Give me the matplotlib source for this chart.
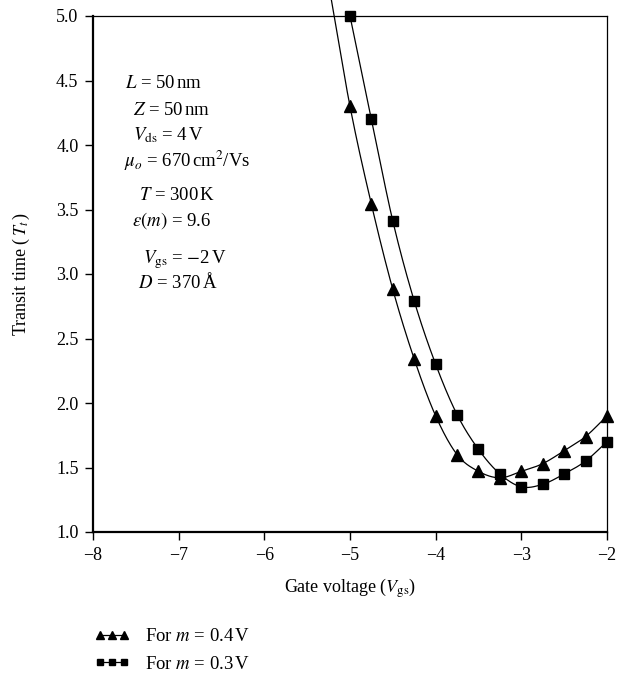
import numpy as np
import matplotlib
matplotlib.use("Agg")
import matplotlib.pyplot as plt

plt.rcParams["font.family"] = ["Liberation Serif", "DejaVu Serif"]
plt.rcParams["mathtext.fontset"] = "stix"

# Transit time vs gate voltage for two values of m
vgs = [-5.0, -4.75, -4.5, -4.25, -4.0, -3.75, -3.5, -3.25, -3.0, -2.75, -2.5, -2.25, -2.0]
tt_m04 = [4.30, 3.54, 2.88, 2.34, 1.90, 1.60, 1.47, 1.42, 1.47, 1.53, 1.63, 1.74, 1.90]
tt_m03 = [5.00, 4.20, 3.41, 2.79, 2.30, 1.91, 1.64, 1.45, 1.35, 1.37, 1.45, 1.55, 1.70]

# the m = 0.4 V curve runs on above the top of the frame
lead_x = [-5.25]
lead_y = [5.25]

params = [
    (125, 88, r"$L$ = 50$\,$nm"),
    (133, 115, r"$Z$ = 50$\,$nm"),
    (133, 140, r"$V_{\rm ds}$ = 4$\,$V"),
    (124, 167, r"$\mu_o$ = 670$\,$cm$^2$/Vs"),
    (139, 200, r"$T$ = 300$\,$K"),
    (132, 226, r"$\varepsilon(m)$ = 9.6"),
    (143, 263, r"$V_{\rm gs}$ = $-$2$\,$V"),
    (138, 288, r"$D$ = 370$\,$Å"),
]


def catmull_rom(x, y, n=24):
    p = np.column_stack([x, y]).astype(float)
    p = np.vstack([2 * p[0] - p[1], p, 2 * p[-1] - p[-2]])
    t = np.linspace(0, 1, n, endpoint=False)[:, None]
    out = []
    for i in range(1, len(p) - 2):
        p0, p1, p2, p3 = p[i - 1], p[i], p[i + 1], p[i + 2]
        seg = 0.5 * ((2 * p1) + (-p0 + p2) * t
                     + (2 * p0 - 5 * p1 + 4 * p2 - p3) * t ** 2
                     + (-p0 + 3 * p1 - 3 * p2 + p3) * t ** 3)
        out.append(seg)
    out.append(p[-2][None, :])
    out = np.vstack(out)
    return out[:, 0], out[:, 1]


W, H = 629, 676
fig = plt.figure(figsize=(W / 100, H / 100), dpi=100)
ax = fig.add_axes([93 / W, 1 - 532 / H, 514 / W, 516 / H])

cx, cy = catmull_rom(lead_x + vgs, lead_y + tt_m04)
ax.plot(cx, cy, color="black", lw=0.9, clip_on=False, zorder=2)
ax.plot(vgs, tt_m04, ls="none", marker="^", ms=9, color="black",
        clip_on=False, zorder=3)

cx, cy = catmull_rom(vgs, tt_m03)
ax.plot(cx, cy, color="black", lw=0.9, clip_on=False, zorder=2)
ax.plot(vgs, tt_m03, ls="none", marker="s", ms=7.5, color="black",
        clip_on=False, zorder=3)

ax.set_xlim(-8, -2)
ax.set_ylim(1.0, 5.0)
ax.set_xticks(range(-8, -1))
ax.set_xticklabels([f"\u2212{abs(v)}" for v in range(-8, -1)])
ax.set_yticks(np.arange(1.0, 5.01, 0.5))
ax.set_yticklabels([f"{v:.1f}" for v in np.arange(1.0, 5.01, 0.5)])

ax.tick_params(direction="out", length=5.5, width=1, labelsize=13, pad=5)
for side in ["left", "bottom"]:
    ax.spines[side].set_linewidth(1.6)
for side in ["top", "right"]:
    ax.spines[side].set_linewidth(0.9)

ax.set_xlabel(r"Gate voltage ($V_{\rm gs}$)", fontsize=13)
ax.set_ylabel(r"Transit time ($\,T_t\,$)", fontsize=13)
ax.xaxis.set_label_coords(0.5, -0.086)
ax.yaxis.set_label_coords(-0.118, 0.5)

for px, py, s in params:
    fig.text(px / W, 1 - py / H, s, fontsize=13.5, ha="left", va="baseline")

h1, = ax.plot([], [], color="black", lw=0.9, marker="^", ms=6)
h2, = ax.plot([], [], color="black", lw=0.9, marker="s", ms=5)
fig.legend([h1, h2], [r"For $m$ = 0.4$\,$V", r"For $m$ = 0.3$\,$V"],
           loc="upper left", bbox_to_anchor=(94 / W, 1 - 628 / H),
           frameon=False, numpoints=3, handlelength=1.9, handletextpad=0.8,
           labelspacing=0.55, borderpad=0, borderaxespad=0, fontsize=13.5)

fig.savefig("out.png", dpi=100)
